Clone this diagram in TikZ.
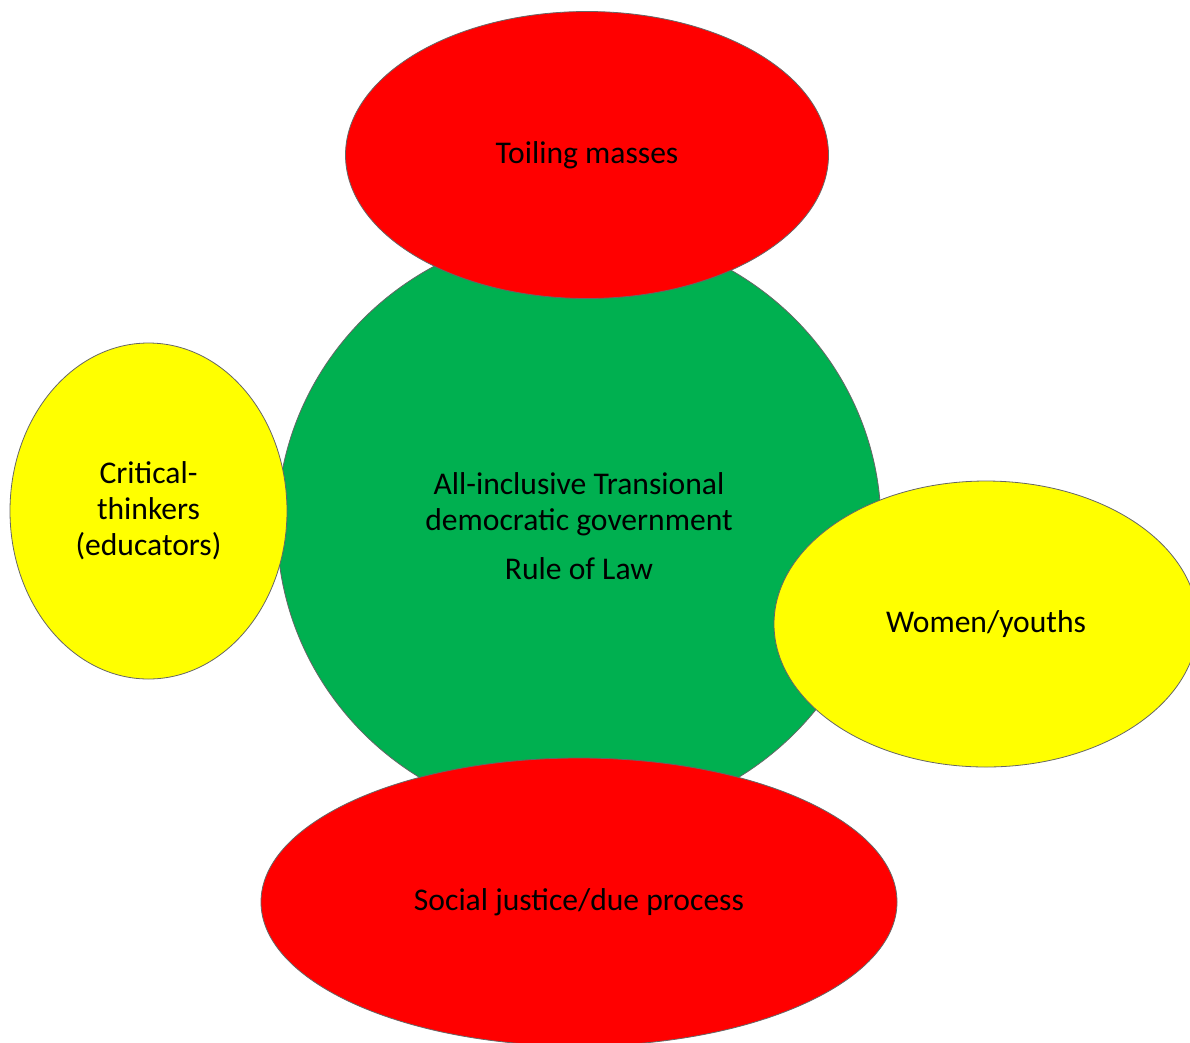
\documentclass[tikz,border=0pt]{standalone}
\usepackage{fontspec}
\setmainfont{Carlito}
\usetikzlibrary{shapes.geometric,positioning}
\definecolor{hubgreen}{HTML}{00B050}
\definecolor{bubred}{HTML}{FF0000}
\definecolor{bubyellow}{HTML}{FFFF00}

\begin{document}
\begin{tikzpicture}[%
      x=1pt, y=-1pt,               % one unit is one pixel of the layout
      every node/.style={font=\fontsize{31.6}{36}\selectfont},
      ]
  \tikzset{
    base/.style={ellipse, draw=black!60, line width=0.8pt, inner sep=0pt, align=center},
    hub/.style={base, fill=hubgreen, minimum width=604pt, minimum height=592pt},
    redbub/.style={base, fill=bubred},
    yelbub/.style={base, fill=bubyellow},
  }
  \useasboundingbox (0,0) rectangle (1190,1042);
  \clip (0,0) rectangle (1190,1042);

  % Centre
  \node [hub] (gov) at (579,526)
    {All-inclusive Transional\\democratic government\\[13pt]Rule of Law};

  % Bubbles round the centre
  \node [redbub, minimum width=483pt, minimum height=287pt] (toil) at (587,155) {Toiling masses};
  \node [yelbub, minimum width=277pt, minimum height=336pt] (crit) at (148.5,511)
    {Critical-\\thinkers\\(educators)};
  \node [yelbub, minimum width=424pt, minimum height=286pt] (wom)  at (986,624) {Women/youths};
  \node [redbub, minimum width=636pt, minimum height=288pt] (just) at (579,902)
    {Social justice/due process};

\end{tikzpicture}
\end{document}
